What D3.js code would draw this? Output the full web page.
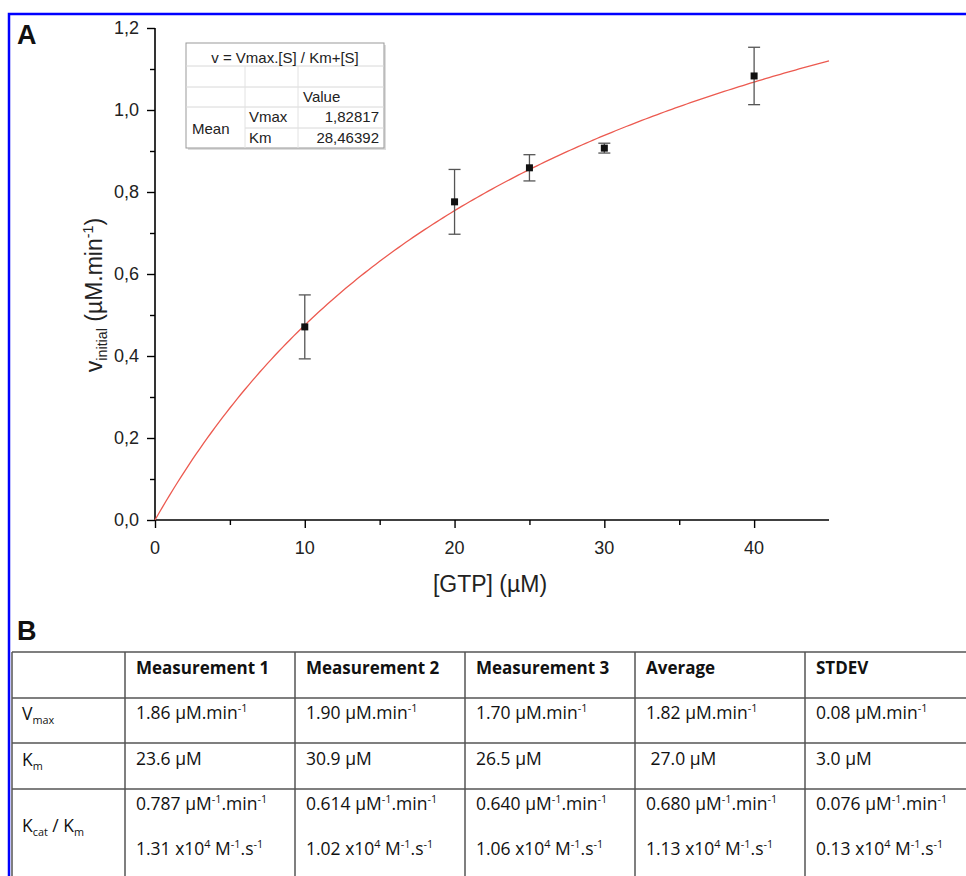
<!DOCTYPE html>
<html>
<head>
<meta charset="UTF-8">
<title>GTP kinetics</title>
<style>
  body { margin: 0; background: #fff; }
  svg text { font-family: "Liberation Sans", Arial, sans-serif; }
</style>
</head>
<body>
<div id="chart"></div>
<script src="https://d3js.org/d3.v7.min.js"></script>
<script>
// data
var gtp = [10, 20, 25, 30, 40];
var vInitial = [0.471, 0.776, 0.859, 0.907, 1.083];
var vError = [0.078, 0.079, 0.032, 0.012, 0.070];

// fit parameters (Michaelis-Menten)
var fitVmax = 1.82817;
var fitKm = 28.46392;

var xTicks = [0, 10, 20, 30, 40];
var yTicks = [0, 0.2, 0.4, 0.6, 0.8, 1.0, 1.2];

// table B
var colHeads = ["", "Measurement 1", "Measurement 2", "Measurement 3", "Average", "STDEV"];
var rowHeads = ["V_{max}", "K_{m}", "K_{cat} / K_{m}"];
var vmaxRow = ["1.86 µM.min^{-1}", "1.90 µM.min^{-1}", "1.70 µM.min^{-1}", "1.82 µM.min^{-1}", "0.08 µM.min^{-1}"];
var kmRow = ["23.6 µM", "30.9 µM", "26.5 µM", " 27.0 µM", "3.0 µM"];
var kcatRow1 = ["0.787 µM^{-1}.min^{-1}", "0.614 µM^{-1}.min^{-1}", "0.640 µM^{-1}.min^{-1}", "0.680 µM^{-1}.min^{-1}", "0.076 µM^{-1}.min^{-1}"];
var kcatRow2 = ["1.31 x10^{4} M^{-1}.s^{-1}", "1.02 x10^{4} M^{-1}.s^{-1}", "1.06 x10^{4} M^{-1}.s^{-1}", "1.13 x10^{4} M^{-1}.s^{-1}", "0.13 x10^{4} M^{-1}.s^{-1}"];

var width = 966, height = 876;

var svg = d3.select("#chart").append("svg")
    .attr("width", width)
    .attr("height", height);

// blue frame
svg.append("path")
    .attr("d", "M9,876 V14 H966")
    .attr("fill", "none")
    .attr("stroke", "#0000ff")
    .attr("stroke-width", 2.5);

// small markup parser: ^{..} superscript, _{..} subscript
function rich(sel, str, size) {
    var re = /([\^_])\{([^}]*)\}/g, last = 0, m;
    var parts = [];
    while ((m = re.exec(str)) !== null) {
        if (m.index > last) parts.push({ t: str.slice(last, m.index), k: "" });
        parts.push({ t: m[2], k: m[1] });
        last = re.lastIndex;
    }
    if (last < str.length) parts.push({ t: str.slice(last), k: "" });
    var shift = 0;
    parts.forEach(function (p) {
        var ts = sel.append("tspan").text(p.t).attr("xml:space", "preserve");
        var target = p.k === "^" ? -size * 0.4 : p.k === "_" ? size * 0.22 : 0;
        ts.attr("dy", target - shift);
        shift = target;
        if (p.k) ts.attr("font-size", size * 0.62);
    });
}

// ---------- panel A ----------
var x = d3.scaleLinear().domain([0, 45]).range([155, 829]);
var y = d3.scaleLinear().domain([0, 1.2]).range([520, 28]);

var comma = function (d) { return d3.format(".1f")(d).replace(".", ","); };

var gx = svg.append("g").attr("transform", "translate(0," + y(0) + ")");
gx.call(d3.axisBottom(x).tickValues(d3.range(0, 45, 5)).tickSize(5).tickFormat(""));
gx.selectAll(".tick").filter(function (d) { return xTicks.indexOf(d) >= 0; })
    .select("line").attr("y2", 8);
gx.selectAll(".lbl").data(xTicks).enter().append("text")
    .attr("x", function (d) { return x(d); })
    .attr("y", 34)
    .attr("text-anchor", "middle")
    .attr("font-size", 18)
    .attr("fill", "#222")
    .text(function (d) { return d; });
gx.select(".domain").attr("d", "M" + x(0) + ",0H" + x(45)).attr("stroke-width", 1.6);
gx.selectAll(".tick line").attr("stroke-width", 1.4);

var gy = svg.append("g").attr("transform", "translate(" + x(0) + ",0)");
gy.call(d3.axisLeft(y).tickValues(d3.range(0, 1.21, 0.1)).tickSize(5).tickFormat(""));
gy.selectAll(".tick").filter(function (d, i) { return i % 2 === 0; })
    .select("line").attr("x2", -8);
gy.selectAll(".lbl").data(yTicks).enter().append("text")
    .attr("x", -16)
    .attr("y", function (d) { return y(d) + 6; })
    .attr("text-anchor", "end")
    .attr("font-size", 18)
    .attr("fill", "#222")
    .text(comma);
gy.select(".domain").attr("d", "M0," + y(0) + "V" + y(1.2)).attr("stroke-width", 1.6);
gy.selectAll(".tick line").attr("stroke-width", 1.4);

// axis titles
svg.append("text")
    .attr("x", 490).attr("y", 592)
    .attr("text-anchor", "middle")
    .attr("font-size", 23)
    .attr("fill", "#222")
    .text("[GTP] (µM)");

var yt = svg.append("text")
    .attr("transform", "translate(102,295) rotate(-90)")
    .attr("text-anchor", "middle")
    .attr("font-size", 23)
    .attr("fill", "#222");
rich(yt, "v_{initial} (µM.min^{-1})", 23);

// fitted curve
var curveX = d3.range(0, 45.01, 0.25);
svg.append("path")
    .datum(curveX)
    .attr("fill", "none")
    .attr("stroke", "#ec5a50")
    .attr("stroke-width", 1.3)
    .attr("d", d3.line()
        .x(function (d) { return x(d); })
        .y(function (d) { return y(fitVmax * d / (fitKm + d)); }));

// error bars + points
var pts = svg.append("g");
gtp.forEach(function (g, i) {
    var cx = x(g), lo = y(vInitial[i] - vError[i]), hi = y(vInitial[i] + vError[i]);
    pts.append("line").attr("x1", cx).attr("x2", cx).attr("y1", lo).attr("y2", hi)
        .attr("stroke", "#555").attr("stroke-width", 1.3);
    [lo, hi].forEach(function (yy) {
        pts.append("line").attr("x1", cx - 6).attr("x2", cx + 6).attr("y1", yy).attr("y2", yy)
            .attr("stroke", "#555").attr("stroke-width", 1.3);
    });
    pts.append("rect").attr("x", cx - 3.5).attr("y", y(vInitial[i]) - 3.5)
        .attr("width", 7).attr("height", 7).attr("fill", "#111");
});

// inset fit table
var inset = svg.append("g").attr("transform", "translate(186,43)");
inset.append("rect").attr("x", 2).attr("y", 2).attr("width", 198).attr("height", 105).attr("fill", "#ddd");
inset.append("rect").attr("width", 198).attr("height", 105).attr("fill", "#fff")
    .attr("stroke", "#999").attr("stroke-width", 1);
var hLines = [23, 44, 64, 85];
hLines.forEach(function (hy, i) {
    inset.append("line").attr("x1", i === 3 ? 59 : 0).attr("x2", 198).attr("y1", hy).attr("y2", hy)
        .attr("stroke", "#d8d8d8");
});
[59, 112].forEach(function (vx) {
    inset.append("line").attr("x1", vx).attr("x2", vx).attr("y1", 23).attr("y2", 105).attr("stroke", "#e2e2e2");
});
var insetText = function (tx, ty, s, anchor) {
    inset.append("text").attr("x", tx).attr("y", ty).attr("text-anchor", anchor || "start")
        .attr("font-size", 15).attr("fill", "#222").text(s);
};
insetText(99, 20, "v = Vmax.[S] / Km+[S]", "middle");
insetText(117, 59, "Value");
insetText(6, 91, "Mean");
insetText(63, 79, "Vmax");
insetText(63, 100, "Km");
insetText(193, 79, d3.format(".5f")(fitVmax).replace(".", ","), "end");
insetText(193, 100, d3.format(".5f")(fitKm).replace(".", ","), "end");

// panel letters
svg.append("text").attr("x", 17).attr("y", 44).attr("font-size", 27).attr("font-weight", "bold").attr("fill", "#111").text("A");
svg.append("text").attr("x", 17).attr("y", 640).attr("font-size", 27).attr("font-weight", "bold").attr("fill", "#111").text("B");

// ---------- panel B table ----------
var colX = [12, 125, 295, 465, 635, 805, 975];
var rowY = [652, 698, 743, 789, 880];
var tb = svg.append("g").attr("class", "tableB");
tb.selectAll("line.h").data(rowY.slice(0, 4)).enter().append("line")
    .attr("x1", colX[0]).attr("x2", width).attr("y1", function (d) { return d; }).attr("y2", function (d) { return d; })
    .attr("stroke", "#555").attr("stroke-width", 1.5);
tb.selectAll("line.v").data(colX.slice(0, 6)).enter().append("line")
    .attr("x1", function (d) { return d; }).attr("x2", function (d) { return d; })
    .attr("y1", rowY[0]).attr("y2", height)
    .attr("stroke", "#555").attr("stroke-width", 1.5);

var tFont = '"Open Sans", "Noto Sans", sans-serif';
var tSize = 17.5;
colHeads.forEach(function (h, i) {
    if (!h) return;
    tb.append("text").attr("x", colX[i] + 11).attr("y", 674)
        .style("font-family", tFont).attr("font-size", 17).attr("font-weight", "bold").attr("fill", "#111").text(h);
});
var rowTextY = [720, 766, 832];
rowHeads.forEach(function (h, i) {
    var t = tb.append("text").attr("x", colX[0] + 10).attr("y", rowTextY[i])
        .style("font-family", tFont).attr("font-size", tSize).attr("fill", "#111");
    rich(t, h, tSize);
});
function cells(row, yy) {
    row.forEach(function (s, i) {
        var t = tb.append("text").attr("x", colX[i + 1] + 11).attr("y", yy)
            .style("font-family", tFont).attr("font-size", tSize).attr("fill", "#111");
        rich(t, s, tSize);
    });
}
cells(vmaxRow, 719);
cells(kmRow, 765);
cells(kcatRow1, 810);
cells(kcatRow2, 855);
</script>
</body>
</html>
